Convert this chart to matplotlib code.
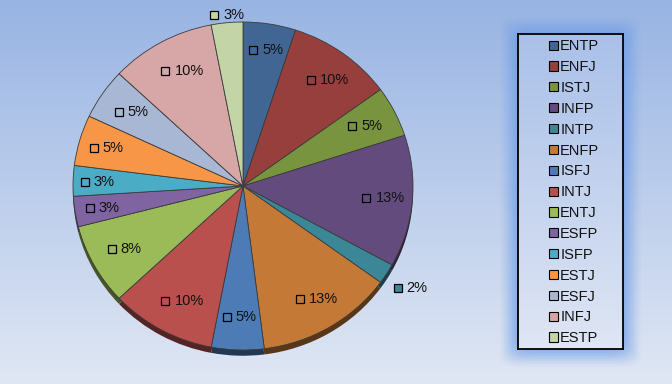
import numpy as np
import matplotlib
matplotlib.use("Agg")
from matplotlib import pyplot as plt
from matplotlib import patches as mpatches
from matplotlib import colors as mcolors
from matplotlib import transforms as mtrans

plt.rcParams['font.family'] = ['Liberation Sans', 'DejaVu Sans']

# MBTI types, share of respondents (%)
types = ["ENTP", "ENFJ", "ISTJ", "INFP", "INTP", "ENFP", "ISFJ", "INTJ",
         "ENTJ", "ESFP", "ISFP", "ESTJ", "ESFJ", "INFJ", "ESTP"]
shares = [5, 10, 5, 13, 2, 13, 5, 10, 8, 3, 3, 5, 5, 10, 3]
slice_colors = ["#416693", "#963f3d", "#79943f", "#634b7e", "#3b8798",
                "#c57936", "#4c7bb5", "#b9504d", "#9bbb59", "#8064a1",
                "#4bacc6", "#f79646", "#a8b7d3", "#d6a7a6", "#c3d5a6"]
# labels for the tiny INTP and ESTP slices sit outside the pie
label_r = [0.84, 0.8, 0.8, 0.8, 1.16, 0.8, 0.8, 0.8, 0.8, 0.84, 0.86, 0.84, 0.8, 0.8, 1.05]

W, H = 672, 384
fig = plt.figure(figsize=(W / 100, H / 100), dpi=100)

# background gradient
bg = fig.add_axes([0, 0, 1, 1])
bg.set_axis_off()
top = np.array(mcolors.to_rgb("#98b4e3"))
bot = np.array(mcolors.to_rgb("#e0e7f4"))
t = np.linspace(0, 1, 256)[:, None]
grad = top[None, None, :] * (1 - t[..., None]) + bot[None, None, :] * t[..., None]
bg.imshow(grad, extent=[0, 1, 0, 1], aspect="auto", zorder=0)
bg.set_xlim(0, 1)
bg.set_ylim(0, 1)

# legend box with soft blue glow
lx0, lx1, ly0, ly1 = 518, 623, 34, 349
for pad in range(18, 0, -2):
    a = 0.07 + 0.03 * (18 - pad) / 2
    bg.add_patch(mpatches.FancyBboxPatch(
        ((lx0 - pad) / W, 1 - (ly1 + pad) / H), (lx1 - lx0 + 2 * pad) / W,
        (ly1 - ly0 + 2 * pad) / H,
        boxstyle="round,pad=0,rounding_size=0.03", transform=bg.transAxes,
        facecolor="#6d9de8", edgecolor="none", alpha=a * 0.6, zorder=1))
lax = fig.add_axes([lx0 / W, 1 - ly1 / H, (lx1 - lx0) / W, (ly1 - ly0) / H])
ltop = np.array(mcolors.to_rgb("#a9c0e8"))
lbot = np.array(mcolors.to_rgb("#dfe6f4"))
lgrad = ltop[None, None, :] * (1 - t[..., None]) + lbot[None, None, :] * t[..., None]
lax.imshow(lgrad, extent=[0, 1, 0, 1], aspect="auto")
lax.set_xticks([])
lax.set_yticks([])
for s in lax.spines.values():
    s.set_linewidth(1.3)
    s.set_color("black")

# pie
ax = fig.add_axes([73 / W, 1 - 350 / H, 340 / W, 328 / H])
dark = [tuple(np.array(mcolors.to_rgb(c)) * 0.45) for c in slice_colors]
ax.pie(shares, colors=dark, startangle=90, counterclock=False,
       center=(0, -0.035), wedgeprops=dict(edgecolor="none"))
wedges, _ = ax.pie(shares, colors=slice_colors, startangle=90, counterclock=False,
                   wedgeprops=dict(edgecolor="#3c3c3c", linewidth=0.6))
ax.set_aspect("auto")
ax.set_xlim(-1, 1)
ax.set_ylim(-1, 1)
ax.set_axis_off()

sq_tr = lambda: mtrans.offset_copy(ax.transData, fig=fig, x=-12, y=0, units="dots")
tx_tr = lambda: mtrans.offset_copy(ax.transData, fig=fig, x=-3, y=0, units="dots")
for w, val, col, r in zip(wedges, shares, slice_colors, label_r):
    mid = np.deg2rad((w.theta1 + w.theta2) / 2)
    x, y = r * np.cos(mid), r * np.sin(mid)
    ax.plot([x], [y], marker="s", ms=5.5, mfc=col, mec="black", mew=0.9,
            transform=sq_tr(), clip_on=False, zorder=5)
    ax.text(x, y, f"{val}%", ha="left", va="center", fontsize=10.5,
            color="#111111", transform=tx_tr(), clip_on=False, zorder=5)

handles = [mpatches.Patch(facecolor=c, edgecolor="black", linewidth=0.8)
           for c in slice_colors]
fig.legend(handles, types, loc="upper left",
           bbox_to_anchor=(542 / W, 1 - 32 / H), frameon=False,
           fontsize=10.5, handlelength=0.6, handleheight=0.6,
           handletextpad=0.15, labelspacing=0.47, borderpad=0,
           labelcolor="#111111")

fig.savefig("out.png", dpi=100)
